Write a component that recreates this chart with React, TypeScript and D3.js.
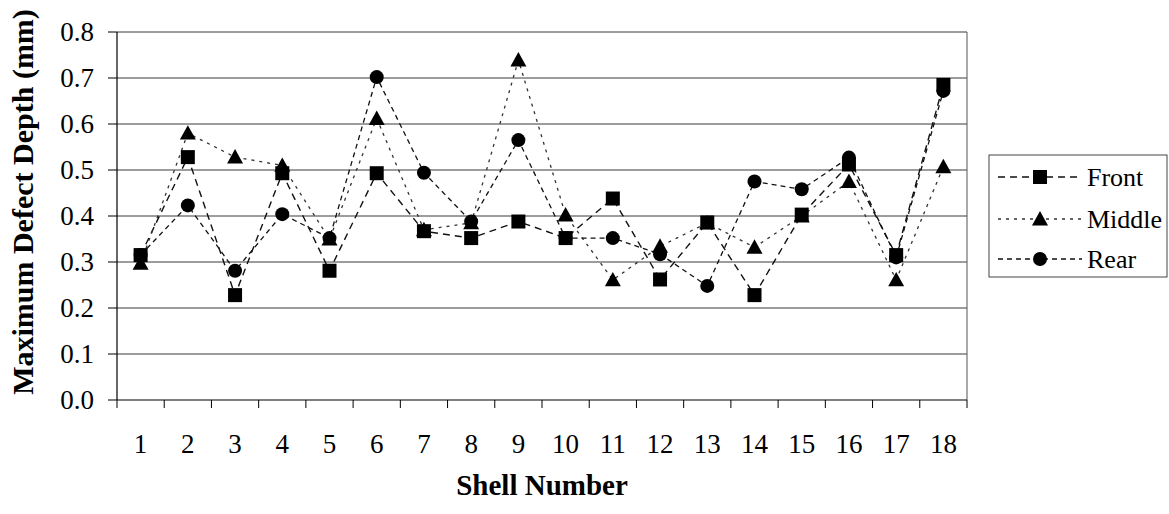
import React from "react";
import * as d3 from "d3";

// Shell numbers along the horizontal axis
const shells: string[] = ["1", "2", "3", "4", "5", "6", "7", "8", "9", "10", "11", "12", "13", "14", "15", "16", "17", "18"];

// Maximum defect depth (mm) measured at each location of the shell
const front: number[] = [0.315, 0.528, 0.228, 0.493, 0.281, 0.493, 0.367, 0.352, 0.388, 0.352, 0.438, 0.262, 0.386, 0.228, 0.403, 0.512, 0.315, 0.685];
const middle: number[] = [0.297, 0.58, 0.528, 0.51, 0.35, 0.612, 0.37, 0.385, 0.739, 0.402, 0.261, 0.334, 0.385, 0.332, 0.4, 0.475, 0.261, 0.507];
const rear: number[] = [0.315, 0.423, 0.281, 0.404, 0.352, 0.702, 0.494, 0.388, 0.565, 0.352, 0.352, 0.317, 0.248, 0.475, 0.458, 0.527, 0.31, 0.672];

const yTicks: number[] = [0, 0.1, 0.2, 0.3, 0.4, 0.5, 0.6, 0.7, 0.8];

const seriesNames = ["Front", "Middle", "Rear"];

const W = 1169;
const H = 514;
const plot = { left: 117, right: 967, top: 32, bottom: 400 };
const FONT = "'Liberation Serif', 'Times New Roman', serif";

type Shape = "square" | "triangle" | "circle";

const styles: { shape: Shape; dash: string; stroke: string; width: number }[] = [
  { shape: "square", dash: "7,5", stroke: "#111", width: 1.4 },
  { shape: "triangle", dash: "3,5", stroke: "#333", width: 1.3 },
  { shape: "circle", dash: "5,4", stroke: "#111", width: 1.3 },
];

function Marker({ shape, x, y }: { shape: Shape; x: number; y: number }) {
  if (shape === "square") {
    return <rect x={x - 7} y={y - 7} width={14} height={14} fill="#000" />;
  }
  if (shape === "triangle") {
    const s = 8;
    return <path d={`M${x},${y - s}L${x + s},${y + s * 0.8}L${x - s},${y + s * 0.8}Z`} fill="#000" />;
  }
  return <circle cx={x} cy={y} r={7} fill="#000" />;
}

export default function App() {
  const x = d3.scaleBand<string>().domain(shells).range([plot.left, plot.right]);
  const y = d3.scaleLinear().domain([0, 0.8]).range([plot.bottom, plot.top]);
  const cx = (s: string) => (x(s) as number) + x.bandwidth() / 2;

  const data = [front, middle, rear];
  const line = d3
    .line<number>()
    .x((_, i) => cx(shells[i]))
    .y((d) => y(d));

  const boundaries = d3.range(shells.length + 1).map((i) => plot.left + i * x.bandwidth());

  const legend = { left: 989, top: 155, right: 1167, bottom: 277 };
  const legendRows = [177, 219, 259];

  return (
    <svg
      width={W}
      height={H}
      style={{ position: "absolute", left: 0, top: 0, background: "#fff" }}
      fontFamily={FONT}
    >
      {/* horizontal gridlines */}
      {yTicks.slice(1).map((t) => (
        <line key={t} x1={plot.left} x2={plot.right} y1={y(t)} y2={y(t)} stroke="#3a3a3a" strokeWidth={1} />
      ))}
      {/* right border of plot area */}
      <line x1={plot.right} x2={plot.right} y1={plot.top} y2={plot.bottom} stroke="#555" strokeWidth={1} />

      {/* y axis */}
      <line x1={plot.left} x2={plot.left} y1={plot.top} y2={plot.bottom} stroke="#000" strokeWidth={1.2} />
      {yTicks.map((t) => (
        <g key={t}>
          <line x1={plot.left - 9} x2={plot.left} y1={y(t)} y2={y(t)} stroke="#000" strokeWidth={1} />
          <text x={94} y={y(t)} dy="0.35em" textAnchor="end" fontSize={27} fill="#000">
            {t.toFixed(1)}
          </text>
        </g>
      ))}

      {/* x axis */}
      <line x1={plot.left} x2={plot.right} y1={plot.bottom} y2={plot.bottom} stroke="#000" strokeWidth={1.2} />
      {boundaries.map((b, i) => (
        <line key={i} x1={b} x2={b} y1={plot.bottom} y2={plot.bottom + 8} stroke="#000" strokeWidth={1} />
      ))}
      {shells.map((s) => (
        <text key={s} x={cx(s)} y={453} textAnchor="middle" fontSize={27} fill="#000">
          {s}
        </text>
      ))}

      {/* series lines */}
      {data.map((d, k) => (
        <path
          key={k}
          d={line(d) as string}
          fill="none"
          stroke={styles[k].stroke}
          strokeWidth={styles[k].width}
          strokeDasharray={styles[k].dash}
        />
      ))}
      {/* markers, drawn Front last so it sits on top as in the legend order */}
      {[2, 1, 0].map((k) =>
        data[k].map((v, i) => <Marker key={`${k}-${i}`} shape={styles[k].shape} x={cx(shells[i])} y={y(v)} />)
      )}

      {/* axis titles */}
      <text
        transform={`translate(22,${(plot.top + plot.bottom) / 2 - 14}) rotate(-90)`}
        dy="0.35em"
        textAnchor="middle"
        fontSize={30}
        fontWeight="bold"
        fill="#000"
      >
        Maximum Defect Depth (mm)
      </text>
      <text x={(plot.left + plot.right) / 2} y={495} textAnchor="middle" fontSize={29} fontWeight="bold" fill="#000">
        Shell Number
      </text>

      {/* legend */}
      <rect
        x={legend.left}
        y={legend.top}
        width={legend.right - legend.left}
        height={legend.bottom - legend.top}
        fill="#fff"
        stroke="#444"
        strokeWidth={1}
      />
      {seriesNames.map((name, k) => (
        <g key={name}>
          <line
            x1={998}
            x2={1082}
            y1={legendRows[k]}
            y2={legendRows[k]}
            stroke={styles[k].stroke}
            strokeWidth={styles[k].width}
            strokeDasharray={styles[k].dash}
          />
          <Marker shape={styles[k].shape} x={1040} y={legendRows[k]} />
          <text x={1087} y={legendRows[k]} dy="0.35em" fontSize={26} fill="#000">
            {name}
          </text>
        </g>
      ))}
    </svg>
  );
}
